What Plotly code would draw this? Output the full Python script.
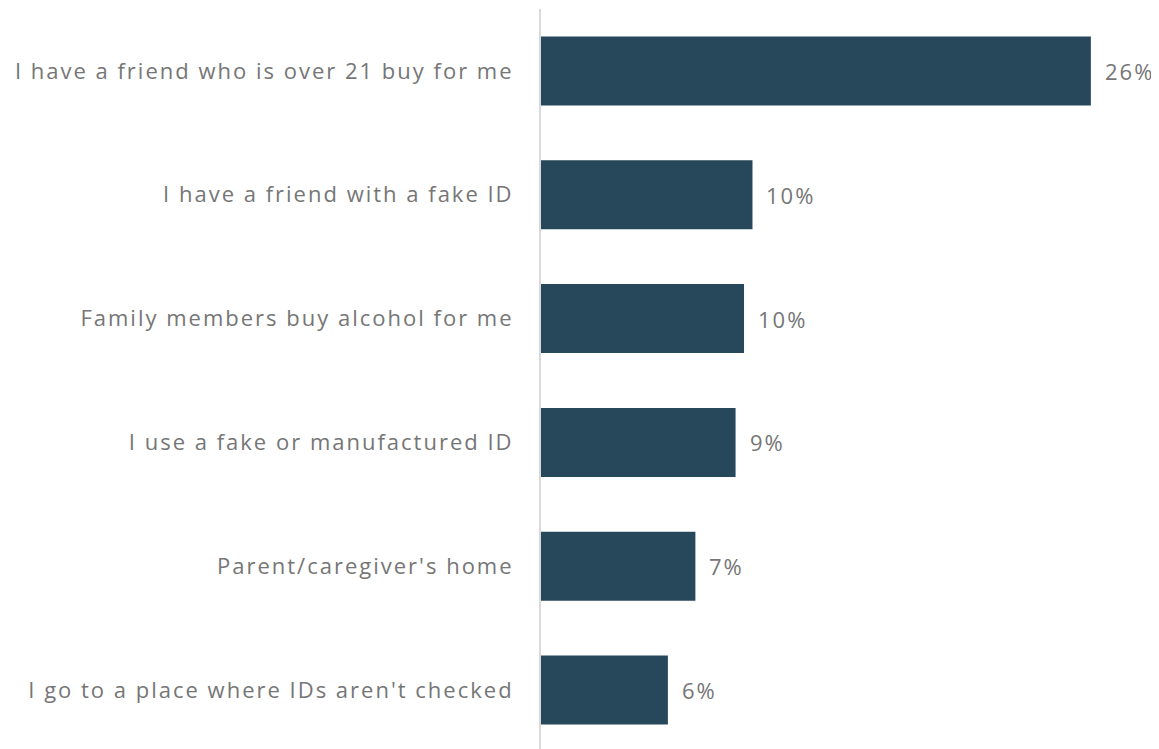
import plotly.graph_objects as go

categories = [
    "I have a friend who is over 21 buy for me",
    "I have a friend with a fake ID",
    "Family members buy alcohol for me",
    "I use a fake or manufactured ID",
    "Parent/caregiver's home",
    "I go to a place where IDs aren't checked",
]
values = [26.0, 10.0, 9.6, 9.2, 7.3, 6.0]
labels = ["26%", "10%", "10%", "9%", "7%", "6%"]

bar_color = "#27475a"
text_color = "#767676"
font_family = "Open Sans, sans-serif"
spacing = "letter-spacing:2px"

fig = go.Figure()
fig.add_trace(go.Bar(
    y=categories, x=values, orientation="h",
    marker=dict(color=bar_color, line=dict(width=0)),
    hoverinfo="skip",
))
for c, v, l in zip(categories, values, labels):
    fig.add_annotation(x=v, y=c, text=f'<span style="letter-spacing:2px">{l}</span>',
                       showarrow=False, xanchor="left",
                       xshift=12, font=dict(family=font_family, size=22, color=text_color))

fig.update_layout(
    width=1159, height=744,
    margin=dict(l=533, r=0, t=1, b=0),
    paper_bgcolor="white", plot_bgcolor="white",
    bargap=0.443,
    showlegend=False,
    font=dict(family=font_family, size=22, color=text_color),
    xaxis=dict(range=[0, 29.6], visible=False, fixedrange=True),
    yaxis=dict(categoryorder="array", categoryarray=categories[::-1],
               tickmode="array", tickvals=categories,
               ticktext=[f'<span style="{spacing}">{c}</span>' for c in categories],
               showline=True, linecolor="#d9d9d9", linewidth=2,
               showgrid=False, zeroline=False, ticks="", ticklabelstandoff=21,
               tickfont=dict(family=font_family, size=22, color=text_color), fixedrange=True),
)
fig.write_html("out.html")
